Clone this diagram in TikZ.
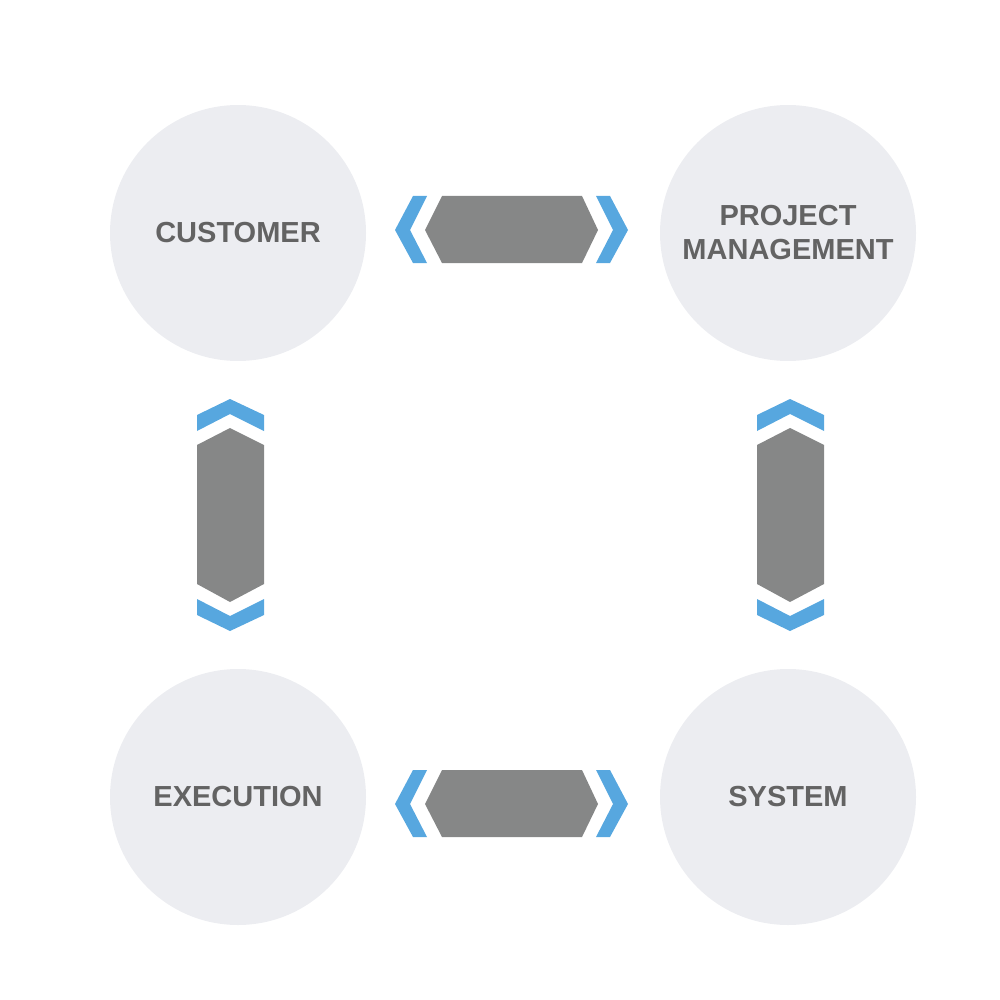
\documentclass[tikz,border=0pt]{standalone}
\usepackage{fontspec}
\setmainfont{Liberation Sans}
\definecolor{circ}{HTML}{ECEDF1}
\definecolor{bar}{HTML}{868787}
\definecolor{chev}{HTML}{57A7DF}
\definecolor{txt}{HTML}{636363}
\begin{document}
\begin{tikzpicture}[x=1pt,y=-1pt,
  circ/.style={circle,fill=circ,minimum size=256pt,inner sep=0pt,align=center,text=txt,font=\fontsize{29}{34}\selectfont\bfseries},
  bar/.style={fill=bar}, chev/.style={fill=chev}]
\useasboundingbox (0,0) rectangle (1000,1000);
\node[circ] (cu) at (238,233) {CUSTOMER};
\node[circ] (pm) at (788,233) {PROJECT\\MANAGEMENT};
\node[circ] (ex) at (238,797) {EXECUTION};
\node[circ] (sy) at (788,797) {SYSTEM};
% horizontal connectors
\foreach \dy in {0,574}{
\begin{scope}[yshift=-\dy pt]
\fill[bar] (425,230) -- (442,196) -- (582,196) -- (598,230) -- (582,263) -- (442,263) -- cycle;
\fill[chev] (413,196) -- (427,196) -- (410,230) -- (427,263) -- (413,263) -- (395,230) -- cycle;
\fill[chev] (610,196) -- (596,196) -- (613,230) -- (596,263) -- (610,263) -- (628,230) -- cycle;
\end{scope}}
% vertical connectors
\foreach \dx in {0,560}{
\begin{scope}[xshift=\dx pt]
\fill[bar] (230,428) -- (264,445) -- (264,584) -- (230,602) -- (197,584) -- (197,445) -- cycle;
\fill[chev] (197,415) -- (230,399) -- (264,415) -- (264,431) -- (230,414) -- (197,431) -- cycle;
\fill[chev] (197,615) -- (230,631) -- (264,615) -- (264,599) -- (230,616) -- (197,599) -- cycle;
\end{scope}}
\end{tikzpicture}
\end{document}
